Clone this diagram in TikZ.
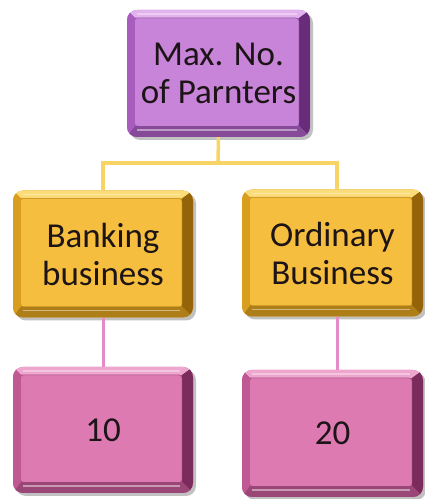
\documentclass[tikz,border=0pt]{standalone}
\usepackage{fontspec}
\setmainfont{Carlito}
\usetikzlibrary{shadows}

\definecolor{txt}{RGB}{28,20,22}
% purple set
\definecolor{puFace}{RGB}{200,132,216}
\definecolor{puLight}{RGB}{226,178,236}
\definecolor{puMid}{RGB}{168,92,190}
\definecolor{puDark}{RGB}{104,44,122}
% gold set
\definecolor{goFace}{RGB}{246,190,62}
\definecolor{goLight}{RGB}{252,220,120}
\definecolor{goMid}{RGB}{218,158,30}
\definecolor{goDark}{RGB}{150,100,8}
% pink set
\definecolor{pkFace}{RGB}{222,122,178}
\definecolor{pkLight}{RGB}{238,166,206}
\definecolor{pkMid}{RGB}{192,88,148}
\definecolor{pkDark}{RGB}{124,44,92}
% connectors
\definecolor{yLine}{RGB}{247,212,100}
\definecolor{pLine}{RGB}{228,140,198}

\tikzset{
  bevel/.style n args={4}{
    rounded corners=10pt, minimum width=180pt, minimum height=127pt,
    align=center, text=txt, font=\fontsize{35}{38}\selectfont,
    fill=#3,
    drop shadow={shadow xshift=3pt, shadow yshift=-3pt, opacity=0.35, fill=black!70},
    path picture={
      \path (path picture bounding box.north west) coordinate (a1)
            (path picture bounding box.north east) coordinate (a2)
            (path picture bounding box.south east) coordinate (a3)
            (path picture bounding box.south west) coordinate (a4);
      \path ([shift={(8pt,-8pt)}]a1) coordinate (b1)
            ([shift={(-11pt,-8pt)}]a2) coordinate (b2)
            ([shift={(-11pt,11pt)}]a3) coordinate (b3)
            ([shift={(8pt,11pt)}]a4) coordinate (b4);
      \fill[#2, sharp corners] (a1) -- (a2) -- (b2) -- (b1) -- cycle;
      \fill[#3, sharp corners] (a1) -- (b1) -- (b4) -- (a4) -- cycle;
      \fill[#4, sharp corners] (a2) -- (a3) -- (b3) -- (b2) -- cycle;
      \fill[#3!80!black, sharp corners] (a4) -- (b4) -- (b3) -- (a3) -- cycle;
      \fill[#1, rounded corners=3pt] (b1) rectangle (b3);
      \draw[white, opacity=0.45, line width=1.6pt, sharp corners]
        ([shift={(2pt,-4pt)}]b4) -- ([shift={(-2pt,-4pt)}]b3);
      \draw[white, opacity=0.35, line width=1.2pt, sharp corners]
        ([shift={(2pt,4pt)}]b1) -- ([shift={(-2pt,4pt)}]b2);
      \draw[#4, opacity=0.35, line width=1pt, rounded corners=3pt]
        (b1) -- (b2) -- (b3);
    }},
  topbox/.style={bevel={puFace}{puLight}{puMid}{puDark}},
  midbox/.style={bevel={goFace}{goLight}{goMid}{goDark}},
  lowbox/.style={bevel={pkFace}{pkLight}{pkMid}{pkDark}},
  yconn/.style={draw=yLine, line width=3.5pt},
  pconn/.style={draw=pLine, line width=3pt}
}

\begin{document}
\begin{tikzpicture}[x=1pt,y=1pt]
\useasboundingbox (0,0) rectangle (424,499);

\coordinate (jn) at (218,336);
\coordinate (rx) at (337,0);

\node[topbox, minimum width=183pt] (top) at (218.5,425.5) {Max. No.\\of Parnters};
\node[midbox] (midL) at (103,245) {Banking\\business};
\node[midbox, minimum width=181pt] (midR) at (332.5,246) {Ordinary\\Business};
\node[lowbox, minimum height=126pt] (botL) at (103,69) {10};
\node[lowbox, minimum width=181pt] (botR) at (332.5,65.5) {20};

% tree connectors
\draw[yconn] (top.south) -- (jn);
\draw[yconn] ([xshift=-1.75pt]jn -| midL.north) -- ([xshift=1.75pt]jn -| rx);
\draw[yconn] (jn -| midL.north) -- (midL.north);
\draw[yconn] (jn -| rx) -- (rx |- midR.north);
\draw[pconn] (midL.south) -- (botL.north);
\draw[pconn] (rx |- midR.south) -- (rx |- botR.north);
\end{tikzpicture}
\end{document}
